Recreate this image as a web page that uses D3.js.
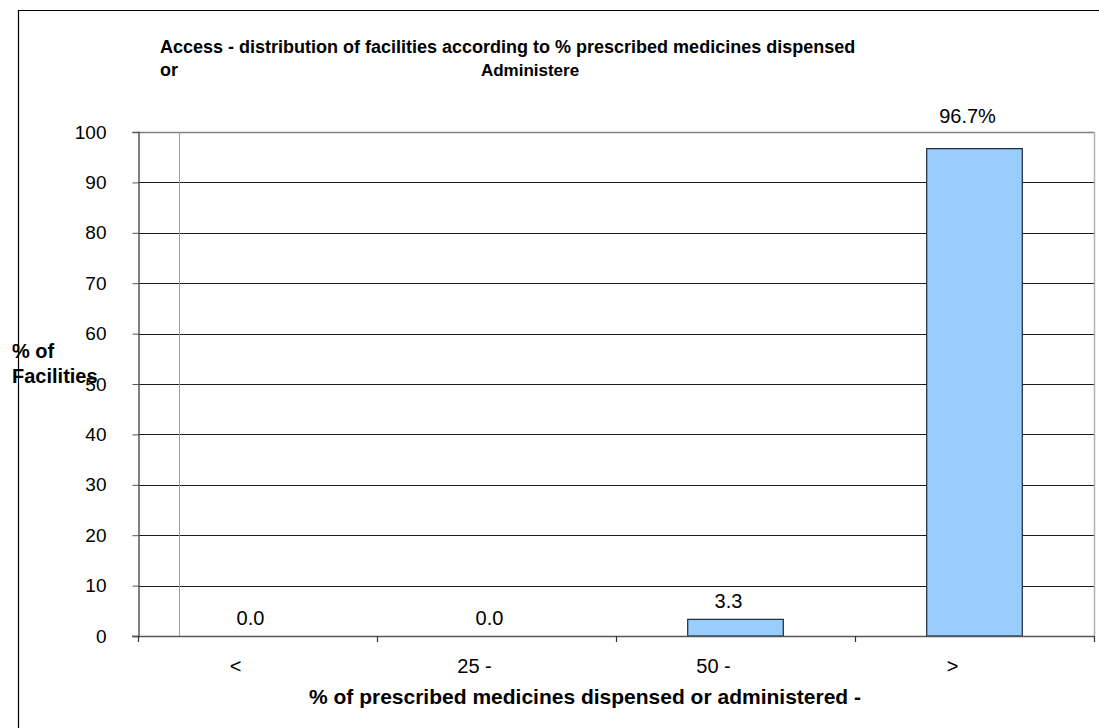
<!DOCTYPE html>
<html>
<head>
<meta charset="utf-8">
<script src="https://cdn.jsdelivr.net/npm/d3@7"></script>
<style>
  html, body { margin: 0; padding: 0; background: #fff; }
  svg { display: block; font-family: Arial, "Liberation Sans", sans-serif; }
</style>
</head>
<body>
<svg id="chart" width="1099" height="728"></svg>
<script>
// Share of facilities by % of prescribed medicines dispensed or administered
const categories = ["<", "25 -", "50 -", ">"];
const values = [0.0, 0.0, 3.3, 96.7];
const valueLabels = ["0.0", "0.0", "3.3", "96.7%"];
const yTicks = [0, 10, 20, 30, 40, 50, 60, 70, 80, 90, 100];

const svg = d3.select("#chart");
const margin = { left: 138, right: 1094, top: 132, bottom: 636 };
const FONT = "Arial, 'Liberation Sans', sans-serif";

// Outer frame (left and top edges)
svg.append("path")
  .attr("d", "M18.5,728 V10.5 H1099")
  .attr("fill", "none").attr("stroke", "#000").attr("stroke-width", 1.2);

const x = d3.scaleBand().domain(categories)
  .range([margin.left, margin.right]).paddingInner(0.6).paddingOuter(0.3);
const xEdges = d3.scaleLinear().domain([0, categories.length])
  .range([margin.left, margin.right]);
const y = d3.scaleLinear().domain([0, 100]).range([margin.bottom, margin.top]);

// Horizontal gridlines
svg.append("g").selectAll("line").data(yTicks.filter(t => t > 0 && t < 100)).join("line")
  .attr("x1", margin.left).attr("x2", margin.right)
  .attr("y1", d => Math.round(y(d)) + 0.5).attr("y2", d => Math.round(y(d)) + 0.5)
  .attr("stroke", "#1a1a1a").attr("stroke-width", 1);

// Plot frame: top and right edges, and inner vertical rule
svg.append("line").attr("x1", margin.left).attr("x2", margin.right)
  .attr("y1", margin.top + 0.5).attr("y2", margin.top + 0.5)
  .attr("stroke", "#808080").attr("stroke-width", 1.5);
svg.append("line").attr("x1", margin.right + 0.5).attr("x2", margin.right + 0.5)
  .attr("y1", margin.top).attr("y2", margin.bottom)
  .attr("stroke", "#b0b0b0").attr("stroke-width", 1.5);
svg.append("line").attr("x1", 179.5).attr("x2", 179.5)
  .attr("y1", margin.top).attr("y2", margin.bottom)
  .attr("stroke", "#a0a0a0").attr("stroke-width", 1);

// Bars
svg.append("g").selectAll("rect").data(values).join("rect")
  .attr("x", (d, i) => x(categories[i]))
  .attr("y", d => y(d))
  .attr("width", x.bandwidth())
  .attr("height", d => y(0) - y(d))
  .attr("fill", "#99ccff").attr("stroke", "#1a2a3a").attr("stroke-width", 1.2)
  .attr("display", d => d > 0 ? null : "none");

// Y axis
const yAxis = d3.axisLeft(y).tickValues(yTicks).tickSize(6).tickPadding(26)
  .tickFormat(d3.format("d"));
const gy = svg.append("g").attr("transform", `translate(${margin.left + 0.5},0)`).call(yAxis);
gy.select(".domain").attr("stroke", "#555").attr("stroke-width", 1.5);
gy.selectAll(".tick line").attr("stroke", "#555");
gy.selectAll("text").attr("font-size", 19).attr("fill", "#000").attr("font-family", FONT);

// X axis: baseline with tick marks at category boundaries
svg.append("line").attr("x1", margin.left - 6).attr("x2", margin.right)
  .attr("y1", margin.bottom + 0.5).attr("y2", margin.bottom + 0.5)
  .attr("stroke", "#555").attr("stroke-width", 1.5);
svg.append("g").selectAll("line").data(d3.range(categories.length + 1)).join("line")
  .attr("x1", d => Math.round(xEdges(d)) + 0.5).attr("x2", d => Math.round(xEdges(d)) + 0.5)
  .attr("y1", margin.bottom).attr("y2", margin.bottom + 6)
  .attr("stroke", "#333").attr("stroke-width", 1.2);

// Category labels
svg.append("g").selectAll("text").data(categories).join("text")
  .attr("x", d => x(d) + x.bandwidth() / 2 - 22)
  .attr("y", 673)
  .attr("text-anchor", "middle").attr("font-size", 20)
  .text(d => d);

// Value labels above bars
svg.append("g").selectAll("text").data(values).join("text")
  .attr("x", (d, i) => x(categories[i]) + x.bandwidth() / 2 - 7)
  .attr("y", (d, i) => i === values.length - 1 ? y(d) - 26 : y(d) - 11)
  .attr("text-anchor", "middle").attr("font-size", 20)
  .text((d, i) => valueLabels[i]);

// Chart title
const title = svg.append("g").attr("font-weight", "bold");
title.append("text").attr("x", 160).attr("y", 53).attr("font-size", 18)
  .text("Access - distribution of facilities according to % prescribed medicines dispensed");
title.append("text").attr("x", 160).attr("y", 76).attr("font-size", 18).text("or");
title.append("text").attr("x", 530).attr("y", 76).attr("font-size", 17)
  .attr("text-anchor", "middle").text("Administere");

// Axis titles
const ylab = svg.append("g").attr("font-weight", "bold").attr("font-size", 20);
ylab.append("text").attr("x", 12).attr("y", 358).text("% of");
ylab.append("text").attr("x", 12).attr("y", 383).text("Facilities");

svg.append("text").attr("x", 585).attr("y", 704).attr("text-anchor", "middle")
  .attr("font-weight", "bold").attr("font-size", 21)
  .text("% of prescribed medicines dispensed or administered -");
</script>
</body>
</html>
